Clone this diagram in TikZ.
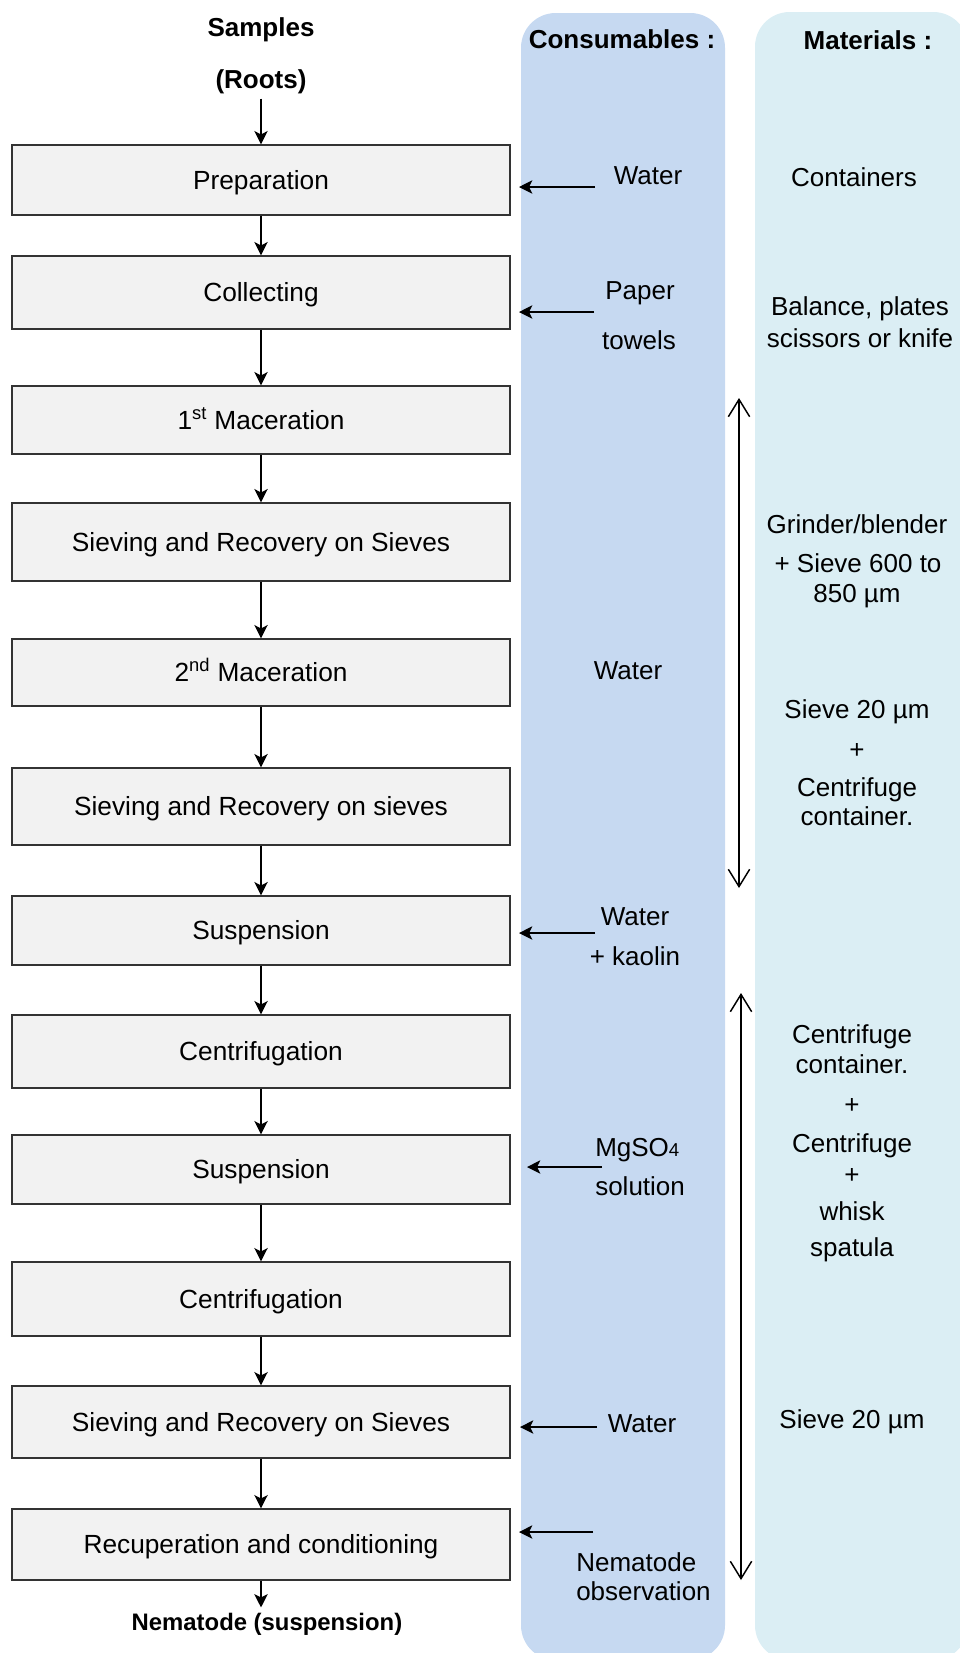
\documentclass[tikz,border=0pt]{standalone}
\usepackage{fontspec}
\setmainfont{Liberation Sans}
\usetikzlibrary{arrows.meta,positioning}

\definecolor{consblue}{HTML}{C6D9F1}
\definecolor{matblue}{HTML}{DBEEF4}
\definecolor{stepfill}{HTML}{F2F2F2}

\tikzset{
  stepbox/.style={draw=black!80, fill=stepfill, line width=0.9pt, minimum width=373.5pt,
    inner sep=0pt, text height=14pt, text depth=0pt, font=\fontsize{19.7}{23}\selectfont},
  lbl/.style={inner sep=0pt, text height=14pt, text depth=0pt, font=\fontsize{19.5}{23}\selectfont},
  head/.style={inner sep=0pt, text height=14pt, text depth=0pt, font=\bfseries\fontsize{19.5}{23}\selectfont},
  flow/.style={-{Stealth[length=10pt,width=10pt,inset=2.5pt]}, line width=1pt},
  span/.style={{Straight Barb[length=13pt,width=16pt]}-{Straight Barb[length=13pt,width=16pt]}, line width=1.1pt},
}

\begin{document}
\begin{tikzpicture}[x=0.75pt,y=-0.75pt]
    \useasboundingbox (0,0) rectangle (960,1653);
    \clip (0,0) rectangle (960,1653);

    % columns
    \fill[consblue, rounded corners=26pt] (521,13) rectangle (725,1660);
    \fill[matblue, rounded corners=26pt] (755,12) rectangle (968,1660);
    \node[head] (cons) at (622,39) {Consumables :};
    \node[head] (mat) at (868,40) {Materials :};

    % process steps
    \node[head] (samples) at (261,27) {Samples};
    \node[head] (roots) at (261,79) {(Roots)};
    \foreach \i/\y/\h/\t in {1/180/70/Preparation, 2/292.5/73/Collecting,
        3/420/68/{1\textsuperscript{st} Maceration}, 4/542/78/Sieving and Recovery on Sieves,
        5/672.5/67/{2\textsuperscript{nd} Maceration}, 6/806.5/77/Sieving and Recovery on sieves,
        7/930.5/69/Suspension, 8/1051.5/73/Centrifugation, 9/1169.5/69/Suspension,
        10/1299/74/Centrifugation, 11/1422/72/Sieving and Recovery on Sieves,
        12/1544.5/71/Recuperation and conditioning} {
        \node[stepbox, minimum height=\h*0.75pt] (b\i) at (261,\y) {\t};
    }
    \node[head, font=\bfseries\fontsize{17.9}{21}\selectfont, text height=12.8pt, outer sep=4.5pt] (result) at (267,1622) {Nematode (suspension)};

    \draw[flow] ([yshift=-7.5pt]roots.south) -- (b1.north);
    \foreach \i [evaluate=\i as \j using int(\i+1)] in {1,...,11}
        \draw[flow] (b\i.south) -- (b\j.north);
    \draw[flow] (b12.south) -- (b12.south |- result.north);

    % consumables
    \node[lbl] (c1) at (648,175) {Water};
    \node[lbl] (c2) at (640,290) {Paper};
    \node[lbl] (c3) at (639,340) {towels};
    \node[lbl] (c4) at (628,670) {Water};
    \node[lbl] (c5) at (635,916) {Water};
    \node[lbl] (c6) at (635,956) {+ kaolin};
    \node[lbl, anchor=west] (c7) at (595,1147) {MgSO{\fontsize{14}{16}\selectfont 4}};
    \node[lbl, anchor=west] (c8) at (595,1186) {solution};
    \node[lbl] (c9) at (642,1423) {Water};
    \node[lbl, anchor=west] (c10) at (576,1562) {Nematode};
    \node[lbl, anchor=west] (c11) at (576,1591) {observation};

    \foreach \n/\xs/\xe/\y in {1/595/519/187, 2/594/519/312, 3/595/519/933,
        4/602/527/1167, 5/597/520/1427, 6/593/519/1532} {
        \coordinate (in\n) at (\xs,\y);
        \coordinate (to\n) at (\xe,\y);
        \draw[flow] (in\n) -- (to\n);
    }

    % materials
    \foreach \n/\x/\y/\t in {1/854/177/Containers, 2/860/306/{Balance, plates},
        3/860/338/scissors or knife, 4/857/524/{Grinder/blender}, 5/858/563/+ Sieve 600 to,
        6/857/593/850 µm, 7/857/709/Sieve 20 µm, 8/857/749/+, 9/857/787/Centrifuge,
        10/857/816/container., 11/852/1034/Centrifuge, 12/852/1064/container.,
        13/852/1104/+, 14/852/1143/Centrifuge, 15/852/1174/+, 16/852/1211/whisk,
        17/852/1247/spatula, 18/852/1419/Sieve 20 µm} {
        \node[lbl] (m\n) at (\x,\y) {\t};
    }

    \coordinate (spanA1) at (739,398);
    \coordinate (spanA2) at (739,888);
    \coordinate (spanB1) at (741,993);
    \coordinate (spanB2) at (741,1580);
    \draw[span] (spanA1) -- (spanA2);
    \draw[span] (spanB1) -- (spanB2);
\end{tikzpicture}
\end{document}
